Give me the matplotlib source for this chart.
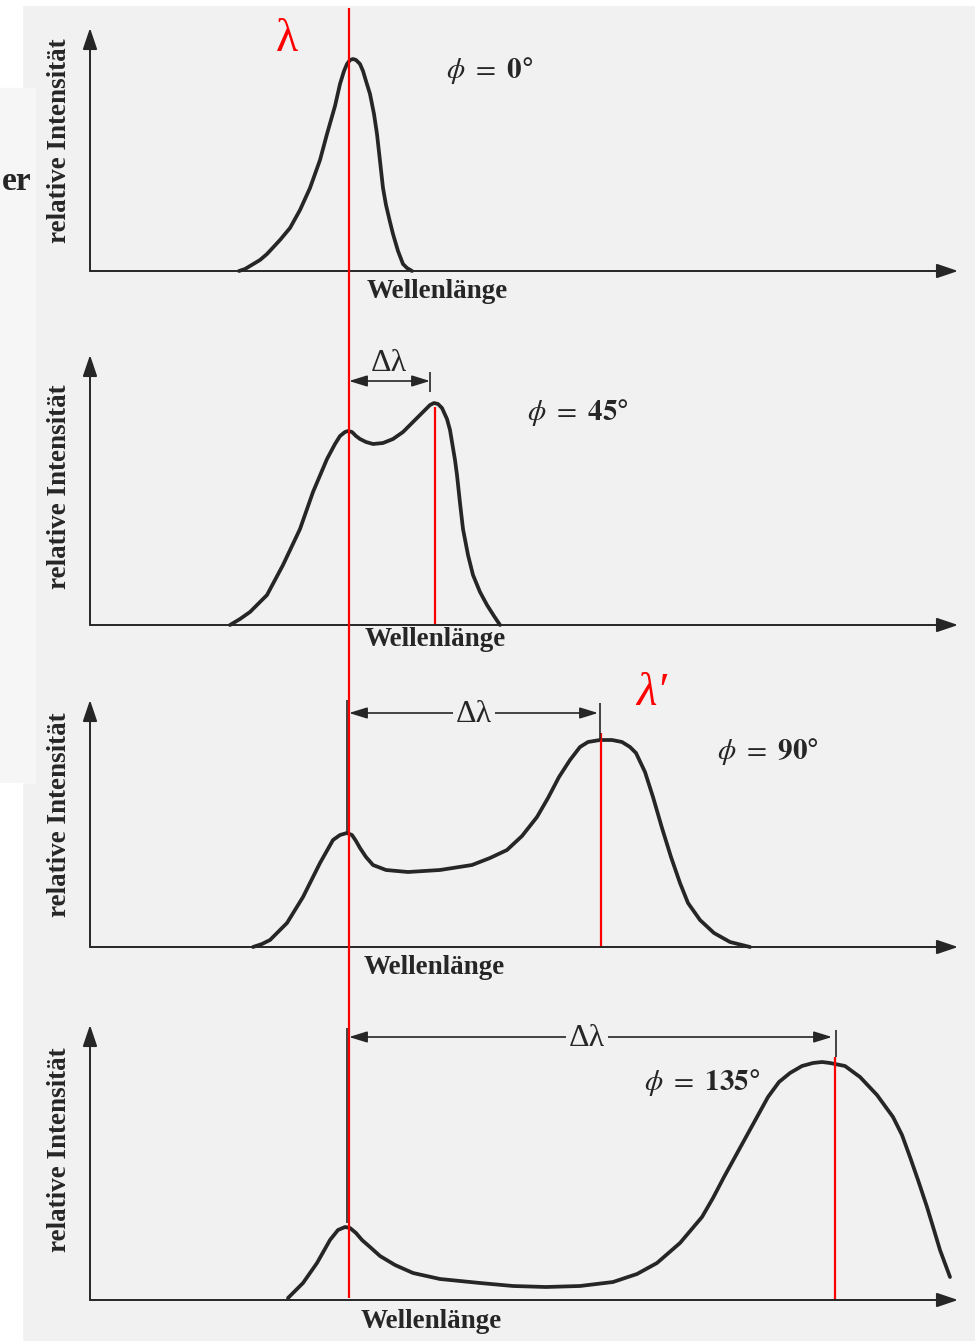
import numpy as np
import matplotlib
matplotlib.use("Agg")
from matplotlib import pyplot as plt

plt.rcParams['mathtext.fontset'] = 'stix'
serif = 'Liberation Serif'

W, H = 975, 1341
bg = '#f1f1f1'
ink = '#262626'

# Compton-Streuung: relative Intensitaet gegen Wellenlaenge (willk. Einheiten)
wl_0 = [149, 155, 160, 170, 177, 190, 200, 210, 220, 230, 237, 245, 250, 254, 257,
        260, 263, 266, 270, 273, 276, 280, 284, 287, 290, 293, 296, 300, 303, 308,
        313, 317, 322]
int_0 = [0, 2, 5, 11, 17, 31, 43, 61, 83, 111, 137, 165, 187, 200, 207,
         211, 212, 211, 207, 200, 190, 177, 157, 137, 110, 83, 66, 49, 37, 20,
         7, 3, 0]

wl_45 = [140, 150, 160, 177, 193, 210, 223, 237, 245, 250, 255, 258, 262, 266, 270,
         276, 283, 293, 303, 313, 323, 332, 340, 344, 348, 352, 357, 360, 362, 365,
         367, 370, 373, 378, 383, 390, 397, 404, 410]
int_45 = [0, 6, 13, 30, 60, 96, 133, 166, 181, 189, 193, 194, 193, 189, 186,
          183, 181, 182, 186, 193, 203, 212, 220, 222, 221, 217, 206, 195, 183, 165,
          150, 122, 96, 70, 50, 33, 20, 9, 0]

wl_90 = [163, 172, 180, 197, 213, 230, 243, 250, 257, 262, 266, 270, 276, 283, 296,
         318, 350, 382, 400, 417, 432, 447, 458, 469, 480, 490, 498, 510, 522, 532,
         540, 546, 555, 563, 572, 581, 590, 598, 610, 624, 640, 660]
int_90 = [0, 3, 7, 24, 50, 84, 107, 112, 114, 112, 106, 99, 90, 82, 77,
          75, 77, 82, 89, 97, 111, 130, 149, 170, 187, 200, 205, 207, 207, 205,
          200, 194, 175, 150, 119, 90, 64, 44, 27, 14, 5, 0]

wl_135 = [198, 213, 227, 240, 248, 255, 260, 266, 272, 280, 290, 305, 323, 350, 390,
          423, 456, 490, 523, 547, 567, 590, 612, 623, 634, 645, 656, 667, 678, 689,
          700, 712, 723, 732, 740, 755, 770, 787, 803, 812, 820, 828, 837, 844, 850,
          860]
int_135 = [2, 17, 37, 60, 70, 73, 72, 67, 60, 53, 44, 35, 27, 21, 17,
           14, 13, 14, 18, 26, 37, 57, 83, 102, 123, 143, 163, 183, 203, 218,
           227, 234, 237, 238, 237, 234, 223, 205, 183, 165, 143, 120, 93, 70, 50,
           23]

lam0 = 259                      # einfallende Wellenlaenge
lam_shift = [345, 511, 745]     # gestreute Wellenlaenge bei 45, 90, 135 Grad
angles = ['0', '45', '90', '135']

fig = plt.figure(figsize=(W / 100, H / 100), dpi=100, facecolor=bg)

# helle Streifen links (Scan-Rand)
for x0, y0, w, h, c in [(0, 0, 22, 88, 'white'), (0, 88, 35, 695, '#f6f6f6'),
                        (0, 783, 22, 558, 'white'), (0, 0, W, 5, 'white')]:
    fig.patches.append(plt.Rectangle((x0 / W, 1 - (y0 + h) / H), w / W, h / H,
                                     transform=fig.transFigure, color=c, zorder=0))

fig.text(2 / W, 1 - 181 / H, 'er', ha='left', va='center', fontsize=24,
         fontweight='bold', family=serif, color=ink)

axis_arrow = dict(arrowstyle='-|>,head_length=0.65,head_width=0.22', color=ink,
                  lw=1.4, mutation_scale=20, shrinkA=0, shrinkB=0)
dl_arrow = dict(arrowstyle='<|-|>,head_length=0.55,head_width=0.17', color=ink,
                lw=1.2, mutation_scale=20, shrinkA=0, shrinkB=0)
curve = dict(color=ink, lw=2.7, solid_capstyle='round', solid_joinstyle='round',
             clip_on=False)


def panel(baseline, top):
    h = baseline - top
    ax = fig.add_axes([90 / W, 1 - baseline / H, 870 / W, h / H])
    ax.set_xlim(0, 870)
    ax.set_ylim(0, h)
    ax.axis('off')
    ax.annotate('', xy=(868, 0), xytext=(0, 0), arrowprops=axis_arrow,
                annotation_clip=False)
    ax.annotate('', xy=(0, h), xytext=(0, 0), arrowprops=axis_arrow,
                annotation_clip=False)
    return ax


def labels(ax, xl, yl, yc):
    ax.text(xl, yl, 'Wellenlänge', ha='center', va='center', fontsize=19.5,
            fontweight='bold', family=serif, color=ink, clip_on=False)
    ax.text(-30, yc, 'relative Intensität', rotation=90, ha='center', va='center',
            fontsize=19.5, fontweight='bold', family=serif, color=ink, clip_on=False)


def phi(ax, x, y, a):
    ax.text(x, y, r'$\phi\ =\ \mathbf{' + a + '°}$', ha='center', va='center',
            fontsize=21, color=ink, clip_on=False)


# 0 Grad
ax1 = panel(271, 28)
ax1.plot(wl_0, int_0, **curve)
ax1.text(197, 231, 'λ', color='red', fontsize=33, family=serif, ha='center',
         va='center', clip_on=False)
phi(ax1, 400, 201, angles[0])
labels(ax1, 347, -21, 130)

# 45 Grad
ax2 = panel(625, 355)
ax2.plot(wl_45, int_45, **curve)
ax2.vlines(lam_shift[0], 0, 218, color='red', lw=1.6)
ax2.annotate('', xy=(lam0, 244), xytext=(lam_shift[0] - 5, 244), arrowprops=dl_arrow)
ax2.vlines(lam_shift[0] - 5, 233, 253, color=ink, lw=1.2)
ax2.text(299, 262, 'Δλ', fontsize=23, family=serif, ha='center', va='center', color=ink)
phi(ax2, 488, 212, angles[1])
labels(ax2, 345, -15, 138)

# 90 Grad
ax3 = panel(947, 700)
ax3.plot(wl_90, int_90, **curve)
ax3.vlines(lam_shift[1], 0, 214, color='red', lw=1.6)
ax3.vlines(lam0 - 2, 114, 249, color=ink, lw=1.2)
ax3.vlines(lam_shift[1] - 1, 207, 244, color=ink, lw=1.2)
ax3.annotate('', xy=(lam0, 234), xytext=(lam_shift[1] - 3, 234), arrowprops=dl_arrow)
ax3.text(384, 233, 'Δλ', fontsize=23, family=serif, ha='center', va='center', color=ink,
         bbox=dict(facecolor=bg, edgecolor='none', pad=2))
ax3.text(562, 253, 'λ′', color='red', fontsize=34, family=serif, style='italic',
         ha='center', va='center', clip_on=False)
phi(ax3, 678, 196, angles[2])
labels(ax3, 344, -21, 132)

# 135 Grad
ax4 = panel(1300, 1025)
ax4.plot(wl_135, int_135, **curve)
ax4.vlines(lam_shift[2], 0, 243, color='red', lw=1.6)
ax4.vlines(lam0 - 2, 77, 272, color=ink, lw=1.2)
ax4.vlines(lam_shift[2] + 1, 243, 270, color=ink, lw=1.2)
ax4.annotate('', xy=(lam0, 263), xytext=(lam_shift[2] - 3, 263), arrowprops=dl_arrow)
ax4.text(497, 262, 'Δλ', fontsize=23, family=serif, ha='center', va='center', color=ink,
         bbox=dict(facecolor=bg, edgecolor='none', pad=2))
phi(ax4, 612, 218, angles[3])
labels(ax4, 341, -22, 150)

# durchgehende rote Linie bei lambda
ov = fig.add_axes([90 / W, 0, 870 / W, 1])
ov.set_xlim(0, 870)
ov.set_ylim(H, 0)
ov.axis('off')
ov.vlines(lam0, 8, 1298, color='red', lw=1.6)

fig.savefig('out.png', dpi=100, facecolor=bg)
